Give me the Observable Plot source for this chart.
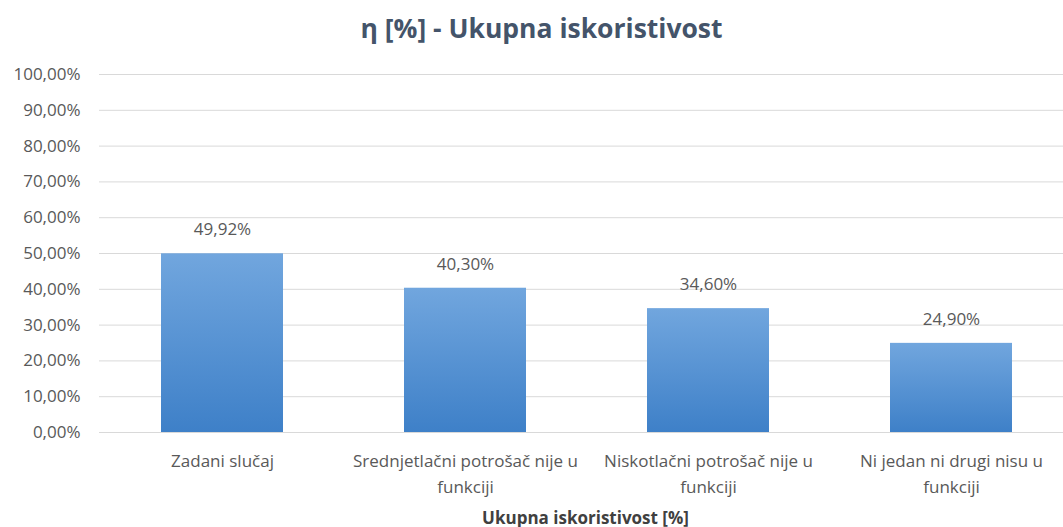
<!DOCTYPE html>
<html>
<head>
<meta charset="utf-8">
<script src="https://cdn.jsdelivr.net/npm/d3@7"></script>
<script src="https://cdn.jsdelivr.net/npm/@observablehq/plot@0.6"></script>
<style>
  body { margin: 0; background: #fff; width: 1063px; height: 527px; overflow: hidden; }
  #title { height: 56px; line-height: 56px; text-align: center; padding-left: 20px; font-family: "Open Sans", sans-serif; font-weight: bold; font-size: 26.5px; color: #44546A; }
</style>
</head>
<body>
<div id="title">η [%] - Ukupna iskoristivost</div>
<div id="chart"></div>
<script>
const categories = [
  "Zadani slučaj",
  "Srednjetlačni potrošač nije u\nfunkciji",
  "Niskotlačni potrošač nije u\nfunkciji",
  "Ni jedan ni drugi nisu u\nfunkciji"
];
const values = [49.92, 40.30, 34.60, 24.90];
const yTicks = [0, 10, 20, 30, 40, 50, 60, 70, 80, 90, 100];
const axisTitle = "Ukupna iskoristivost [%]";

const data = categories.map((c, i) => ({cat: c, value: values[i]}));
const fmt = v => v.toFixed(2).replace(".", ",") + "%";

const gradient = () => {
  const svg = d3.create("svg:g");
  const g = svg.append("defs").append("linearGradient")
    .attr("id", "barGrad").attr("x1", 0).attr("y1", 0).attr("x2", 0).attr("y2", 1);
  g.append("stop").attr("offset", "0%").attr("stop-color", "#71A6DE");
  g.append("stop").attr("offset", "100%").attr("stop-color", "#3E80C8");
  return svg.node();
};

const chart = Plot.plot({
  width: 1063,
  height: 471,
  marginTop: 18,
  marginBottom: 95,
  marginLeft: 99,
  marginRight: 0,
  style: {fontFamily: "Open Sans, sans-serif", fontSize: "17px", color: "#595959"},
  x: {domain: categories, range: [99, 1073], paddingInner: 0.5, paddingOuter: 0.25, label: null},
  y: {domain: [0, 100], label: null},
  marks: [
    gradient,
    Plot.ruleY(yTicks, {stroke: "#D9D9D9", strokeWidth: 1}),
    Plot.barY(data, {x: "cat", y: "value", fill: "url(#barGrad)"}),
    Plot.text(data, {x: "cat", y: "value", text: d => fmt(d.value), dy: -24, fill: "#595959", fontSize: 17}),
    Plot.axisY(yTicks, {tickSize: 0, tickPadding: 19, tickFormat: fmt, fontSize: 17, fill: "#595959"}),
    Plot.axisX({tickSize: 0, tickPadding: 16, lineHeight: 1.53, fontSize: 17, fill: "#595959"}),
    Plot.text([axisTitle], {frameAnchor: "bottom", dy: 91, dx: 4, fontWeight: "bold", fontSize: 17, fill: "#404040"})
  ]
});
document.getElementById("chart").appendChild(chart);
</script>
</body>
</html>
